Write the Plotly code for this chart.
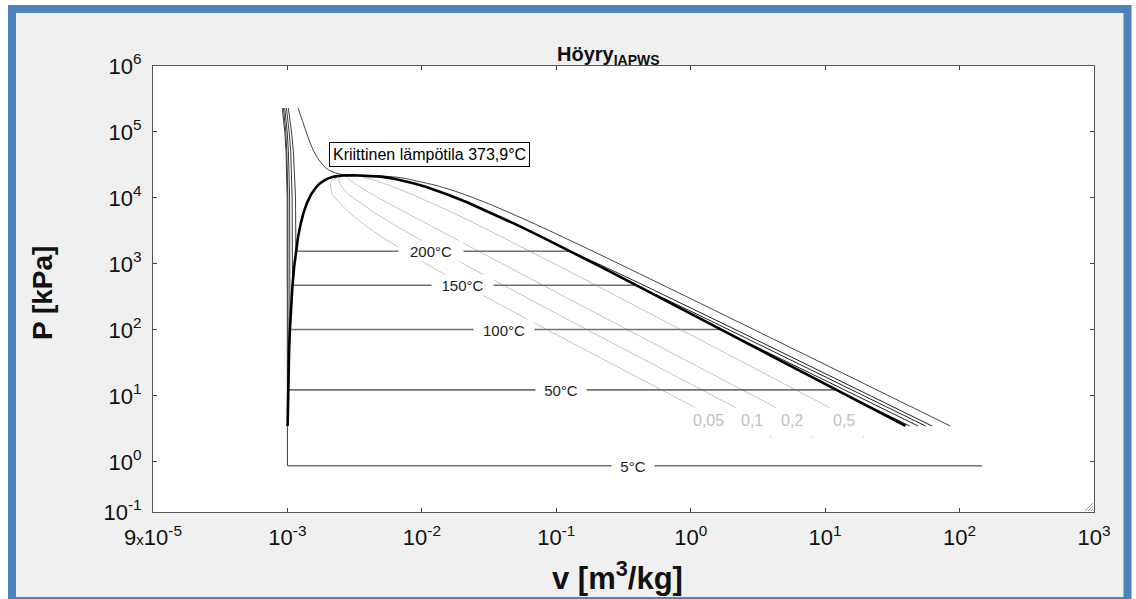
import math
import plotly.graph_objects as go

# ---------------- data ----------------
# saturation dome: pressure [kPa], liquid / vapour specific volume [m3/kg]
sat_P = [3.5, 4.247, 7.385, 12.35, 19.95, 47.42, 101.42, 232.3, 476.2, 892.6, 1555.0,
         2550.0, 3976.0, 5950.0, 8588.0, 11284.0, 14601.0, 16529.0, 18666.0, 19822.0,
         21044.0, 21867.0, 22064.0]
sat_vf = [0.001003, 0.001004, 0.001008, 0.001012, 0.001017, 0.001029, 0.001043, 0.001065,
          0.001091, 0.001121, 0.001157, 0.001199, 0.001252, 0.001317, 0.001404, 0.001499,
          0.001638, 0.001741, 0.001895, 0.002016, 0.002217, 0.00257, 0.003106]
sat_vg = [39.6, 32.88, 19.51, 12.026, 7.667, 3.405, 1.672, 0.7704, 0.3924, 0.2167, 0.12721,
          0.07834, 0.05008, 0.03279, 0.02166, 0.01549, 0.01080, 0.008806, 0.006950, 0.006009,
          0.004953, 0.00372, 0.003106]

# isotherms
iso_labels = ["5°C", "50°C", "100°C", "150°C", "200°C"]
iso_Psat = [0.8725, 12.35, 101.42, 476.2, 1555.0]
iso_vf = [0.0010001, 0.0010121, 0.0010435, 0.0010905, 0.0011565]
iso_vg = [147.0, 12.026, 1.672, 0.3924, 0.12721]

liq_P = [10000.0, 50000.0, 100000.0, 230000.0]
liq_v = {
    "5°C":   [0.0009952, 0.000977, 0.000957, 0.000915],
    "50°C":  [0.0010074, 0.000990, 0.000972, 0.000935],
    "100°C": [0.0010385, 0.001017, 0.000996, 0.000955],
    "150°C": [0.0010845, 0.001058, 0.001030, 0.000983],
    "200°C": [0.0011482, 0.001108, 0.001073, 0.001015],
}
sup_P = {
    "50°C":  [12.35, 10.0, 5.0, 3.5],
    "100°C": [101.42, 100.0, 50.0, 10.0, 3.5],
    "150°C": [476.2, 400.0, 200.0, 100.0, 10.0, 3.5],
    "200°C": [1555.0, 1000.0, 500.0, 200.0, 100.0, 10.0, 3.5],
}
sup_v = {
    "50°C":  [12.026, 14.867, 29.78, 42.55],
    "100°C": [1.672, 1.6959, 3.4187, 17.196, 49.16],
    "150°C": [0.3924, 0.4708, 0.9596, 1.9367, 19.513, 55.77],
    "200°C": [0.12721, 0.2060, 0.4249, 1.0803, 2.1724, 21.825, 62.35],
}

# critical isotherm 373.9 °C
crit_P = [230000.0, 150000.0, 100000.0, 70000.0, 50000.0, 35000.0, 28000.0, 25000.0, 23000.0,
          22300.0, 22064.0, 21900.0, 21500.0, 21000.0, 20000.0, 18000.0, 15000.0, 10000.0,
          5000.0, 2000.0, 1000.0, 500.0, 200.0, 100.0, 30.0, 10.0, 3.5]
crit_v = [0.00120, 0.00129, 0.00138, 0.00147, 0.00158, 0.00176, 0.00195, 0.00215, 0.00245,
          0.00280, 0.003106, 0.0040, 0.0050, 0.0059, 0.0073, 0.0092, 0.0135, 0.0244,
          0.0548, 0.1447, 0.2941, 0.5928, 1.489, 2.983, 9.95, 29.86, 85.3]

# quality lines
q_P = [6.63, 12.35, 19.95, 47.42, 101.42, 232.3, 476.2, 892.6, 1555.0, 2550.0, 3976.0,
       5950.0, 8588.0, 11284.0, 14601.0, 16529.0, 18666.0, 21044.0, 22064.0]
q_labels = ["0,05", "0,1", "0,2", "0,5"]
q_v = {
    "0,05": [1.0825, 0.6023, 0.3843, 0.1712, 0.08459, 0.03953, 0.02066, 0.01190, 0.007518,
             0.005056, 0.003693, 0.002891, 0.002417, 0.002149, 0.002096, 0.002094, 0.002148,
             0.002354, 0.003106],
    "0,1": [2.164, 1.2035, 0.7676, 0.3414, 0.16814, 0.07800, 0.04022, 0.02268, 0.013878,
            0.008913, 0.006135, 0.004464, 0.003430, 0.002848, 0.002554, 0.002448, 0.002401,
            0.002491, 0.003106],
    "0,2": [4.327, 2.4060, 1.5342, 0.6818, 0.33523, 0.15493, 0.07935, 0.04424, 0.026598,
            0.016627, 0.011018, 0.007612, 0.005456, 0.004297, 0.003470, 0.003154, 0.002906,
            0.002764, 0.003106],
    "0,5": [10.82, 6.0135, 3.834, 1.7030, 0.83652, 0.38573, 0.19675, 0.10891, 0.064184,
            0.039770, 0.025666, 0.017054, 0.011532, 0.008495, 0.006219, 0.005274, 0.004423,
            0.003585, 0.003106],
}

# label positions (v, P)
iso_label_v = [0.375, 0.109, 0.0411, 0.02015, 0.01175]
iso_label_w = [40, 48, 58, 59, 62]
q_label_v = [1.357, 2.836, 5.63, 13.74]
q_label_P = 4.27
comma_v = [3.93, 8.07, 19.4]
comma_P = 2.71
crit_label = "Kriittinen lämpötila 373,9°C"
crit_label_v, crit_label_P = 0.01135, 45700.0

x_tickvals = [1e-4, 1e-3, 1e-2, 1e-1, 1e0, 1e1, 1e2, 1e3]
x_ticktext = ["9<span style='font-size:15px'>x</span>10<sup>-5</sup>", "10<sup>-3</sup>",
              "10<sup>-2</sup>", "10<sup>-1</sup>", "10<sup>0</sup>", "10<sup>1</sup>",
              "10<sup>2</sup>", "10<sup>3</sup>"]
y_bottom = 10 ** -0.76
y_tickvals = [y_bottom, 1e0, 1e1, 1e2, 1e3, 1e4, 1e5, 1e6]
y_ticktext = ["10<sup>-1</sup>", "10<sup>0</sup>", "10<sup>1</sup>", "10<sup>2</sup>",
              "10<sup>3</sup>", "10<sup>4</sup>", "10<sup>5</sup>", "10<sup>6</sup>"]

# ---------------- figure ----------------
FONT = "Liberation Sans, Arial, sans-serif"
W, H = 1136, 599
ML, MR, MT, MB = 153, 42, 66, 87
PW, PH = W - ML - MR, H - MT - MB


def px(xp):
    return (xp - ML) / PW


def py(yp):
    return (H - MB - yp) / PH


fig = go.Figure()

for q in q_labels:
    fig.add_trace(go.Scatter(x=q_v[q], y=q_P, mode="lines",
                             line=dict(color="#c4c4c4", width=1), hoverinfo="skip"))

for i, lab in enumerate(iso_labels):
    # compressed liquid
    fig.add_trace(go.Scatter(x=[iso_vf[i]] + liq_v[lab], y=[iso_Psat[i]] + liq_P, mode="lines",
                             line=dict(color="#3a3a3a", width=1), hoverinfo="skip"))
    # two-phase horizontal
    fig.add_trace(go.Scatter(x=[iso_vf[i], iso_vg[i]], y=[iso_Psat[i], iso_Psat[i]],
                             mode="lines", line=dict(color="#707070", width=1.6),
                             hoverinfo="skip"))
    # superheated
    if lab in sup_P:
        fig.add_trace(go.Scatter(x=sup_v[lab], y=sup_P[lab], mode="lines",
                                 line=dict(color="#222222", width=1), hoverinfo="skip"))

fig.add_trace(go.Scatter(x=crit_v, y=crit_P, mode="lines", line=dict(color="#444444", width=1),
                         line_shape="spline", hoverinfo="skip"))

fig.add_trace(go.Scatter(x=sat_vf + sat_vg[::-1], y=sat_P + sat_P[::-1], mode="lines",
                         line=dict(color="black", width=2.6), hoverinfo="skip"))

ann = []
for i, lab in enumerate(iso_labels):
    ann.append(dict(x=math.log10(iso_label_v[i]), y=math.log10(iso_Psat[i]), xref="x", yref="y",
                    text=lab, showarrow=False, bgcolor="white", width=iso_label_w[i], height=18,
                    font=dict(family=FONT, size=15, color="#222")))
for i, lab in enumerate(q_labels):
    ann.append(dict(x=math.log10(q_label_v[i]), y=math.log10(q_label_P), xref="x", yref="y",
                    text=lab, showarrow=False, font=dict(family=FONT, size=16, color="#c0c0c0")))
for cv in comma_v:
    ann.append(dict(x=math.log10(cv), y=math.log10(comma_P), xref="x", yref="y", text=",",
                    showarrow=False, font=dict(family=FONT, size=10, color="#d0d0d0")))
ann.append(dict(x=math.log10(crit_label_v), y=math.log10(crit_label_P), xref="x", yref="y",
                text=crit_label, showarrow=False, bgcolor="white", bordercolor="black",
                borderwidth=1, borderpad=3, font=dict(family=FONT, size=16, color="black")))
# title
ann.append(dict(x=px(608), y=py(55), xref="paper", yref="paper", showarrow=False,
                xanchor="center", yanchor="middle",
                text="<b>Höyry<sub>IAPWS</sub></b>", font=dict(family=FONT, size=20, color="#111")))
# axis titles
ann.append(dict(x=px(42), y=py(293), xref="paper", yref="paper", showarrow=False, textangle=-90,
                xanchor="center", yanchor="middle",
                text="<b>P [kPa]</b>", font=dict(family=FONT, size=28, color="#111")))
ann.append(dict(x=px(617), y=py(576), xref="paper", yref="paper", showarrow=False,
                xanchor="center", yanchor="middle",
                text="<b>v [m<sup>3</sup>/kg]</b>", font=dict(family=FONT, size=31, color="#111")))

shapes = [
    # outer white margin strips
    dict(type="rect", xref="paper", yref="paper", x0=px(0), x1=px(8), y0=py(0), y1=py(H),
         fillcolor="white", line=dict(width=0), layer="above"),
    dict(type="rect", xref="paper", yref="paper", x0=px(0), x1=px(W), y0=py(0), y1=py(5),
         fillcolor="white", line=dict(width=0), layer="above"),
    dict(type="rect", xref="paper", yref="paper", x0=px(1132), x1=px(W), y0=py(0), y1=py(H),
         fillcolor="white", line=dict(width=0), layer="above"),
    # blue window frame
    dict(type="rect", xref="paper", yref="paper", x0=px(12), x1=px(1127.5), y0=py(9),
         y1=py(601), line=dict(color="#4f81bd", width=8), layer="above"),
    # resize grip
    dict(type="line", xref="paper", yref="paper", x0=px(1085), y0=py(511), x1=px(1093),
         y1=py(503), line=dict(color="#999", width=1)),
    dict(type="line", xref="paper", yref="paper", x0=px(1088), y0=py(511), x1=px(1093),
         y1=py(506), line=dict(color="#999", width=1)),
    dict(type="line", xref="paper", yref="paper", x0=px(1091), y0=py(511), x1=px(1093),
         y1=py(509), line=dict(color="#999", width=1)),
]

axis_common = dict(type="log", showgrid=False, zeroline=False, showline=True, linecolor="#555",
                   linewidth=1, mirror="ticks", ticks="inside", ticklen=4, tickcolor="#444",
                   tickfont=dict(family=FONT, size=22, color="#111"))

fig.update_layout(
    width=W, height=H, margin=dict(l=ML, r=MR, t=MT, b=MB, pad=0),
    paper_bgcolor="#f0f0f0", plot_bgcolor="white", showlegend=False,
    xaxis=dict(range=[-4, 3], tickvals=x_tickvals, ticktext=x_ticktext, ticklabelstandoff=6,
               **axis_common),
    yaxis=dict(range=[math.log10(y_bottom), 6], tickvals=y_tickvals, ticktext=y_ticktext,
               ticklabelstandoff=6, **axis_common),
    annotations=ann, shapes=shapes,
)

fig.write_html("out.html")
